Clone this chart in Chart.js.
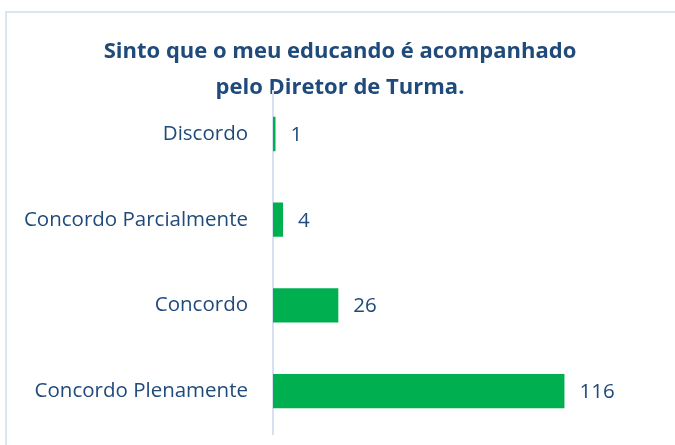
<!DOCTYPE html>
<html>
<head>
<meta charset="utf-8">
<script src="https://cdn.jsdelivr.net/npm/chart.js@4"></script>
<style>
  body { margin: 0; background: #fff; }
  #box { position: absolute; left: 5px; top: 11px; width: 720px; height: 500px;
         border-top: 2px solid #DCE6F2; border-left: 2px solid #DCE6F2; }
  #grafico { position: absolute; left: 0; top: 0; }
</style>
</head>
<body>
<div id="box"></div>
<canvas id="grafico" width="675" height="445"></canvas>
<script>
const categorias = ["Discordo", "Concordo Parcialmente", "Concordo", "Concordo Plenamente"];
const respostas = [1, 4, 26, 116];
const titulo = ["Sinto que o meu educando é acompanhado", "pelo Diretor de Turma."];

const corTexto = "#1F4A7A";

// rotulos com o valor ao lado de cada barra
const rotulos = {
  id: "rotulos",
  afterDatasetsDraw(chart) {
    const ctx = chart.ctx;
    const meta = chart.getDatasetMeta(0);
    ctx.save();
    ctx.font = "20.5px 'Open Sans'";
    ctx.fillStyle = corTexto;
    ctx.textBaseline = "middle";
    meta.data.forEach((bar, i) => {
      ctx.fillText(respostas[i], bar.x + 15, bar.y + 1);
    });
    ctx.restore();
  }
};

const ctx = document.getElementById("grafico");
new Chart(ctx, {
  type: "bar",
  data: {
    labels: categorias,
    datasets: [
      {
        data: respostas,
        backgroundColor: "#00B050",
        borderWidth: 0,
        categoryPercentage: 1,
        barPercentage: 0.4,
      },
    ],
  },
  options: {
    indexAxis: "y",
    responsive: false,
    animation: false,
    layout: { padding: { top: 34, right: 0, bottom: 11, left: 5 } },
    scales: {
      x: { display: false, min: 0, max: 160 },
      y: {
        afterFit: (scale) => {
          scale.width = 268;
          scale.paddingTop = 0;
          scale.paddingBottom = 0;
        },
        grid: { display: false, drawTicks: false },
        border: { display: true, color: "#D6E0EE", width: 2 },
        ticks: { color: corTexto, font: { family: "Open Sans", size: 20.5 }, padding: 25 },
      },
    },
    plugins: {
      legend: { display: false },
      tooltip: { enabled: false },
      title: {
        display: true,
        text: titulo,
        color: corTexto,
        font: { family: "Open Sans", size: 22, weight: "bold", lineHeight: 1.64 },
        padding: { top: 0, bottom: -15 },
      },
    },
  },
  plugins: [rotulos],
});
</script>
</body>
</html>
